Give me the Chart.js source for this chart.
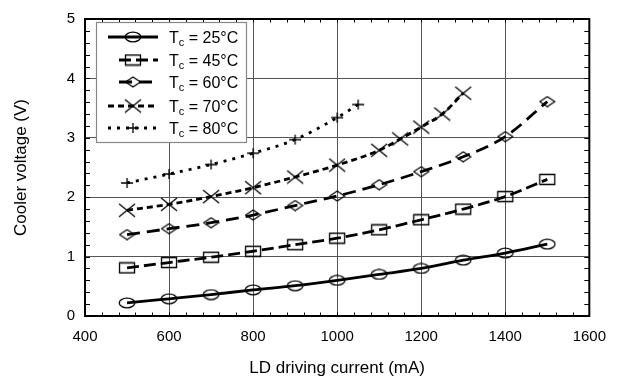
<!DOCTYPE html>
<html><head><meta charset="utf-8">
<script src="https://cdn.jsdelivr.net/npm/chart.js@4.4.0/dist/chart.umd.min.js"></script>
<style>html,body{margin:0;padding:0;background:#fff}#wrap{width:618px;height:381px;position:relative}</style>
</head><body><div id="wrap"><canvas id="c" width="618" height="381"></canvas></div>
<script>
// ---- data ----
const currentsMain = [500, 600, 700, 800, 900, 1000, 1100, 1200, 1300, 1400, 1500];
const currents70 = [500, 600, 700, 800, 900, 1000, 1100, 1150, 1200, 1250, 1300];
const currents80 = [500, 600, 700, 800, 900, 1000, 1050];
const volt25 = [0.22, 0.29, 0.36, 0.44, 0.51, 0.60, 0.70, 0.80, 0.94, 1.06, 1.21];
const volt45 = [0.81, 0.90, 0.99, 1.09, 1.20, 1.31, 1.45, 1.62, 1.80, 2.01, 2.30];
const volt60 = [1.37, 1.47, 1.57, 1.70, 1.86, 2.02, 2.21, 2.43, 2.68, 3.02, 3.61];
const volt70 = [1.78, 1.88, 2.01, 2.16, 2.34, 2.54, 2.79, 2.98, 3.18, 3.40, 3.75];
const volt80 = [2.24, 2.39, 2.55, 2.74, 2.97, 3.34, 3.56];
const seriesLabels = ['25°C', '45°C', '60°C', '70°C', '80°C'];
const xTitle = 'LD driving current (mA)';
const yTitle = 'Cooler voltage (V)';

const FONT = "'Liberation Sans', Arial, sans-serif";

function makeMarker(kind, w, h) {
  const c = document.createElement('canvas');
  c.width = w + 2; c.height = h + 2;
  const g = c.getContext('2d');
  g.strokeStyle = '#000'; g.lineWidth = 1.3;
  const cx = c.width / 2, cy = c.height / 2;
  g.beginPath();
  if (kind === 'ellipse') {
    g.ellipse(cx, cy, w / 2 - 0.2, h / 2 - 0.2, 0, 0, Math.PI * 2);
  } else if (kind === 'rect') {
    g.rect(1.5, 1.5, w - 1, h - 1);
  } else if (kind === 'diamond') {
    g.moveTo(cx, 1); g.lineTo(w + 1, cy); g.lineTo(cx, h + 1); g.lineTo(1, cy); g.closePath();
  } else if (kind === 'x') {
    g.moveTo(1, 1); g.lineTo(w + 1, h + 1); g.moveTo(w + 1, 1); g.lineTo(1, h + 1);
  } else if (kind === 'plus') {
    g.moveTo(1, cy); g.lineTo(w + 1, cy); g.moveTo(cx, 1); g.lineTo(cx, h + 1);
  }
  g.stroke();
  return c;
}
const mEllipse = makeMarker('ellipse', 16, 10);
const mRect = makeMarker('rect', 16, 11);
const mDiamond = makeMarker('diamond', 15, 10);
const mX = makeMarker('x', 16, 13);
const mPlus = makeMarker('plus', 12, 10);

function pts(xs, ys) { return xs.map((v, i) => ({ x: v, y: ys[i] })); }

function ds(label, xs, ys, dash, marker) {
  return {
    label, data: pts(xs, ys), borderColor: '#000', backgroundColor: 'transparent',
    borderWidth: 2.8, borderDash: dash, pointStyle: marker, pointRadius: 6,
    cubicInterpolationMode: 'monotone', fill: false
  };
}

const datasets = [
  ds(seriesLabels[0], currentsMain, volt25, [], mEllipse),
  ds(seriesLabels[1], currentsMain, volt45, [12, 5], mRect),
  ds(seriesLabels[2], currentsMain, volt60, [13, 7], mDiamond),
  ds(seriesLabels[3], currents70, volt70, [6, 4], mX),
  ds(seriesLabels[4], currents80, volt80, [3, 6], mPlus)
];

const framePlugin = {
  id: 'framePlugin',
  afterDraw(chart) {
    const { ctx, chartArea: a, scales: { x, y } } = chart;
    ctx.save();
    ctx.strokeStyle = '#000';
    ctx.lineWidth = 1;
    ctx.beginPath();
    for (let v = 400; v <= 1600; v += 40) {
      const px = Math.round(x.getPixelForValue(v)) + 0.5;
      const len = 3.5;
      ctx.moveTo(px, a.bottom); ctx.lineTo(px, a.bottom - len);
      ctx.moveTo(px, a.top); ctx.lineTo(px, a.top + len);
    }
    for (let i = 0; i <= 25; i++) {
      const py = Math.round(y.getPixelForValue(i * 0.2)) + 0.5;
      ctx.moveTo(a.left, py); ctx.lineTo(a.left + 5, py);
      ctx.moveTo(a.right, py); ctx.lineTo(a.right - 5, py);
    }
    ctx.stroke();
    ctx.lineWidth = 2;
    ctx.strokeRect(a.left, a.top, a.right - a.left, a.bottom - a.top);

    // legend
    const L = { x: 96.5, y: 22.5, w: 150, h: 120 };
    ctx.fillStyle = '#fff';
    ctx.fillRect(L.x, L.y, L.w, L.h);
    ctx.strokeStyle = '#888';
    ctx.lineWidth = 1.2;
    ctx.strokeRect(L.x, L.y, L.w, L.h);
    const rows = [37, 60, 82, 106, 128];
    chart.data.datasets.forEach((d, i) => {
      const ry = rows[i];
      ctx.strokeStyle = '#000';
      ctx.lineWidth = 2.8;
      ctx.setLineDash(d.borderDash);
      ctx.beginPath();
      const x0 = (i === 1 || i === 2) ? 119 : 108;
      ctx.moveTo(x0, ry); ctx.lineTo(158, ry);
      ctx.stroke();
      ctx.setLineDash([]);
      const m = d.pointStyle;
      ctx.drawImage(m, 133 - m.width / 2, ry - m.height / 2);
      ctx.fillStyle = '#000';
      ctx.textBaseline = 'alphabetic';
      ctx.textAlign = 'left';
      ctx.font = '16px ' + FONT;
      let tx = 169;
      ctx.fillText('T', tx, ry + 6);
      tx += ctx.measureText('T').width;
      ctx.font = '11px ' + FONT;
      ctx.fillText('c', tx, ry + 9);
      tx += ctx.measureText('c').width;
      ctx.font = '16px ' + FONT;
      ctx.fillText(' = ' + d.label, tx, ry + 6);
    });
    ctx.restore();
  }
};

new Chart(document.getElementById('c'), {
  type: 'line',
  data: { datasets },
  options: {
    responsive: false, animation: false, devicePixelRatio: 1,
    layout: { padding: { left: 0, top: 15, right: 28, bottom: 0 } },
    plugins: { legend: { display: false }, tooltip: { enabled: false } },
    scales: {
      x: {
        type: 'linear', min: 400, max: 1600,
        ticks: { stepSize: 200, color: '#000', font: { size: 15, family: FONT }, padding: 12, maxRotation: 0, callback: v => String(v) },
        grid: { drawTicks: false, color: c => (c.tick && (c.tick.value === 400 || c.tick.value === 1600)) ? 'rgba(0,0,0,0)' : '#555', lineWidth: 1 },
        border: { display: false },
        title: { display: true, text: xTitle, color: '#000', font: { size: 17, family: FONT }, padding: { top: 0, bottom: 2 } },
        afterFit: s => { s.height = 65; }
      },
      y: {
        type: 'linear', min: 0, max: 5,
        ticks: { stepSize: 1, color: '#000', font: { size: 15, family: FONT }, padding: 10, callback: v => String(v) },
        grid: { drawTicks: false, color: c => (c.tick && (c.tick.value === 0 || c.tick.value === 5)) ? 'rgba(0,0,0,0)' : '#555', lineWidth: 1 },
        border: { display: false },
        title: { display: true, text: yTitle, color: '#000', font: { size: 17, family: FONT }, padding: { top: 11, bottom: 0 } },
        afterFit: s => { s.width = 85; }
      }
    }
  },
  plugins: [framePlugin]
});
</script>
</body></html>
